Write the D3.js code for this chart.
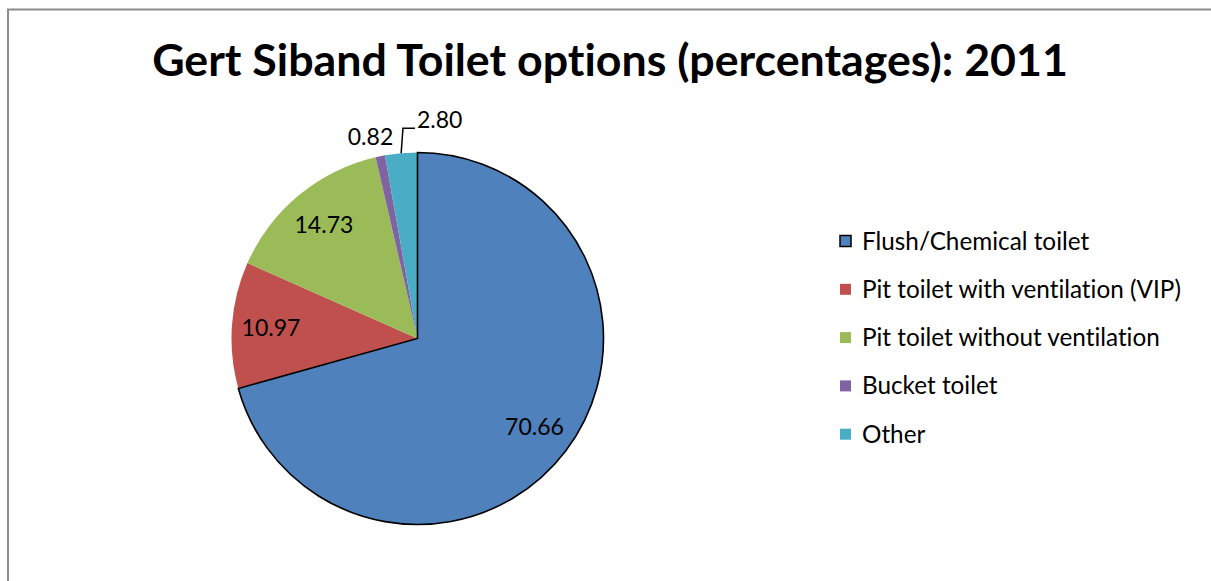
<!DOCTYPE html>
<html><head><meta charset="utf-8">
<script src="https://cdn.jsdelivr.net/npm/d3@7"></script>
<style>html,body{margin:0;padding:0;background:#fff;overflow:hidden} text{font-variant-ligatures:none;font-feature-settings:"liga" 0}</style>
</head><body>
<svg id="c" width="1211" height="581"></svg>
<script>
const title = "Gert Siband Toilet options (percentages): 2011";
const categories = ["Flush/Chemical toilet","Pit toilet with ventilation (VIP)","Pit toilet without ventilation","Bucket toilet","Other"];
const values = [70.66, 10.97, 14.73, 0.82, 2.80];
const colors = ["#4F81BD","#C0504D","#9BBB59","#8064A2","#4BACC6"];

const svg = d3.select("#c");
const font = "Lato, 'Open Sans', sans-serif";

// frame
svg.append("path").attr("d","M8,590 L8,9.5 L1220,9.5").attr("fill","none").attr("stroke","#8c8c8c").attr("stroke-width",2);

// title fitted to width
const t = svg.append("text").attr("x",610).attr("y",76).attr("text-anchor","middle")
  .attr("font-family",font).attr("font-weight","bold").attr("font-size",40).attr("fill","#000").text(title);
const tw = t.node().getComputedTextLength();
t.attr("font-size", 40*916/tw);

const cx = 417.5, cy = 338.5, R = 186;
const g = svg.append("g").attr("transform",`translate(${cx},${cy})`);
const data = categories.map((c,i)=>({c, v: values[i], col: colors[i], i}));
const pie = d3.pie().value(d=>d.v).sort(null);
const arcs = pie(data);
const arc = d3.arc().innerRadius(0).outerRadius(R);

g.selectAll("path.s").data(arcs).join("path").attr("class","s")
  .attr("d",arc).attr("fill",d=>d.data.col).attr("stroke","none");
g.append("path").attr("d",arc(arcs[0])).attr("fill","none").attr("stroke","#000").attr("stroke-width",1.6);

const labelArc = d3.arc().innerRadius(R*0.79).outerRadius(R*0.79);
const lf = 23;
arcs.forEach((a,i)=>{
  const mid = (a.startAngle+a.endAngle)/2;
  if (a.data.v > 5) {
    const [x,y] = labelArc.centroid(a);
    g.append("text").attr("x",x).attr("y",y).attr("text-anchor","middle").attr("dy","0.35em")
      .attr("font-family",font).attr("font-size",lf).attr("fill","#000").text(a.data.v.toFixed(2));
  } else if (i===3) {
    const r = R*1.1;
    g.append("text").attr("x",Math.sin(mid)*r - 6).attr("y",-Math.cos(mid)*r).attr("text-anchor","middle").attr("dy","0.3em")
      .attr("font-family",font).attr("font-size",lf).attr("fill","#000").text(a.data.v.toFixed(2));
  } else {
    const x0 = Math.sin(mid)*R, y0 = -Math.cos(mid)*R;
    const x1 = Math.sin(mid)*(R+25) + 4, y1 = -Math.cos(mid)*(R+25);
    const x2 = x1 + 12;
    g.append("path").attr("d",`M${x0},${y0} L${x1},${y1} L${x2},${y1}`).attr("fill","none").attr("stroke","#000").attr("stroke-width",1.5);
    g.append("text").attr("x",x2+2).attr("y",y1-8).attr("text-anchor","start").attr("dy","0.35em")
      .attr("font-family",font).attr("font-size",lf).attr("fill","#000").text(a.data.v.toFixed(2));
  }
});

// legend
const leg = svg.append("g").attr("transform","translate(840,241)");
const rows = leg.selectAll("g").data(data).join("g").attr("transform",(d,i)=>`translate(0,${i*48.3})`);
rows.append("rect").attr("x",0).attr("y",-5.5).attr("width",11).attr("height",11).attr("fill",d=>d.col)
  .attr("stroke",d=>d.i===0?"#000":"none").attr("stroke-width",1.5);
rows.append("text").attr("x",22).attr("y",0).attr("dy","0.35em").attr("font-family",font).attr("font-size",24.3)
  .attr("fill","#000").text(d=>d.c);
</script>
</body></html>
